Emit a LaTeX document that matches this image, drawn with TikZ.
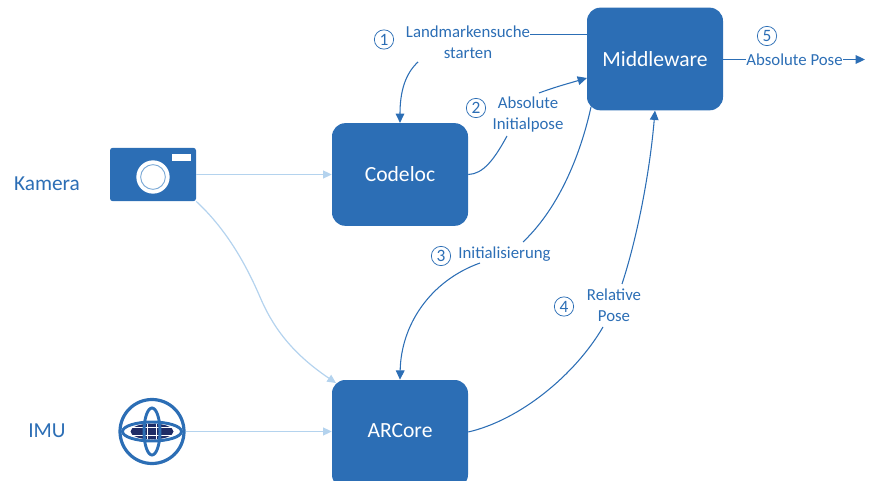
\documentclass[tikz,border=0pt]{standalone}
\usepackage{fontspec}
\setmainfont{Carlito}
\usetikzlibrary{arrows.meta}
\definecolor{boxblue}{HTML}{2C6EB5}
\definecolor{paleline}{HTML}{B4D3EE}
\definecolor{darknavy}{HTML}{1F2C66}
\tikzset{
 x=0.75pt,y=-0.75pt,
 procbox/.style={draw=none,fill=boxblue,rounded corners=10pt,minimum width=102pt,minimum height=77pt,inner sep=0pt,text=white,font=\fontsize{16.2pt}{18pt}\selectfont},
 lab/.style={text=boxblue,font=\fontsize{12.6pt}{15.75pt}\selectfont,align=center,inner sep=0pt},
 sidelab/.style={text=boxblue,font=\fontsize{16pt}{18pt}\selectfont,inner sep=0pt},
 num/.style={circle,draw=boxblue,line width=0.55pt,minimum size=14.5pt,inner sep=0pt,text=boxblue,font=\fontsize{13pt}{14pt}\selectfont},
 conn/.style={draw=boxblue,line width=0.8pt,-{Stealth[length=7pt,width=6.5pt,inset=0pt]}},
 plainconn/.style={draw=boxblue,line width=0.8pt},
 pale/.style={draw=paleline,line width=0.9pt,-{Stealth[length=6.5pt,width=6pt,inset=0pt]}},
}
\begin{document}
\begin{tikzpicture}
\useasboundingbox (0,0) rectangle (871,481);
\clip (0,0) rectangle (871,481);
% boxes
\node[procbox] (mw) at (655,59) {Middleware};
\node[procbox] (code) at (400,174.5) {Codeloc};
\node[procbox,minimum height=81pt] (ar) at (400,434) {};
\node[text=white,font=\fontsize{16.2pt}{18pt}\selectfont,inner sep=0pt] (artext) at (400,431) {ARCore};
% camera
\node[fill=boxblue,rounded corners=2pt,minimum width=64.5pt,minimum height=40pt,inner sep=0pt] (cam) at (153,174.5) {};
\fill[white] (172,154) rectangle (191,161);
\node[circle,fill=white,minimum size=25pt,inner sep=0pt] (lens) at (153,177) {};
\node[circle,draw=paleline!60!boxblue,line width=0.7pt,minimum size=18.5pt,inner sep=0pt] (lensring) at (153,177) {};
% imu
\node[circle,draw=boxblue,line width=2.4pt,minimum size=48pt,inner sep=0pt] (imu) at (152,431.5) {};
\fill[darknavy] (152,431.5) ellipse (21.5 and 8);
\draw[white,line width=0.6pt] (130,427.5) -- (174,427.5) (130,435) -- (174,435) (147.5,423) -- (147.5,440) (156.5,423) -- (156.5,440);
\draw[boxblue,line width=2.2pt] (152,431.5) ellipse (29.5 and 9.5);
\draw[boxblue,line width=2.2pt] (152,431.5) ellipse (8 and 23.5);
% side labels
\node[sidelab] (lk) at (47,184) {Kamera};
\node[sidelab] (li) at (47,431) {IMU};
% pale connectors
\coordinate (p1) at (336,383);
\draw[pale] (cam.south east) .. controls (225,228) and (245,262) .. (260,297) .. controls (272,325) and (290,352) .. (p1);
\draw[pale] (cam.east) -- (code.west);
\draw[pale] (imu.east) -- (ar.west |- imu.east);
% labels
\node[lab] (l1) at (468,42.5) {Landmarkensuche\\starten};
\node[lab] (l2) at (528,115) {Absolute\\Initialpose};
\node[lab] (l3) at (504.5,254) {Initialisierung};
\node[lab] (l4) at (614,305) {Relative\\Pose};
\node[lab] (l5) at (794.5,60) {Absolute Pose};
\node[num] (n1) at (384,39.5) {1};
\node[num] (n2) at (476,108) {2};
\node[num] (n3) at (441,256) {3};
\node[num] (n4) at (564,306.5) {4};
\node[num] (n5) at (767,36) {5};
% connectors
\coordinate (a1) at (530,34.6);
\coordinate (a2) at (418,62);
\coordinate (b1) at (507,136);
\coordinate (b2) at (539,93);
\coordinate (c1) at (591,107);
\coordinate (c2) at (523,242);
\coordinate (c3) at (480,263);
\coordinate (d1) at (622,284);
\coordinate (d2) at (603,327);
\coordinate (e1) at (746,59.5);
\coordinate (e2) at (843,59.5);
\coordinate (e3) at (865,59.5);
\draw[plainconn] (a1) -- (mw.west |- a1);
\draw[conn] (a2) .. controls (405,74) and (400,92) .. (code.north);
\draw[plainconn] (code.east) .. controls (483,174) and (494,160) .. (b1);
\draw[conn] (b2) .. controls (555,87) and (570,83) .. (587,78);
\draw[plainconn] (c1) .. controls (582,148) and (562,205) .. (c2);
\draw[conn] (c3) .. controls (430,281) and (401,325) .. (ar.north);
\draw[plainconn] (ar.east |- 0,432) .. controls (520,420) and (575,375) .. (d2);
\draw[conn] (d1) .. controls (638,235) and (650,170) .. (mw.south);
\draw[plainconn] (mw.east |- e1) -- (e1);
\draw[conn] (e2) -- (e3);
\end{tikzpicture}
\end{document}
